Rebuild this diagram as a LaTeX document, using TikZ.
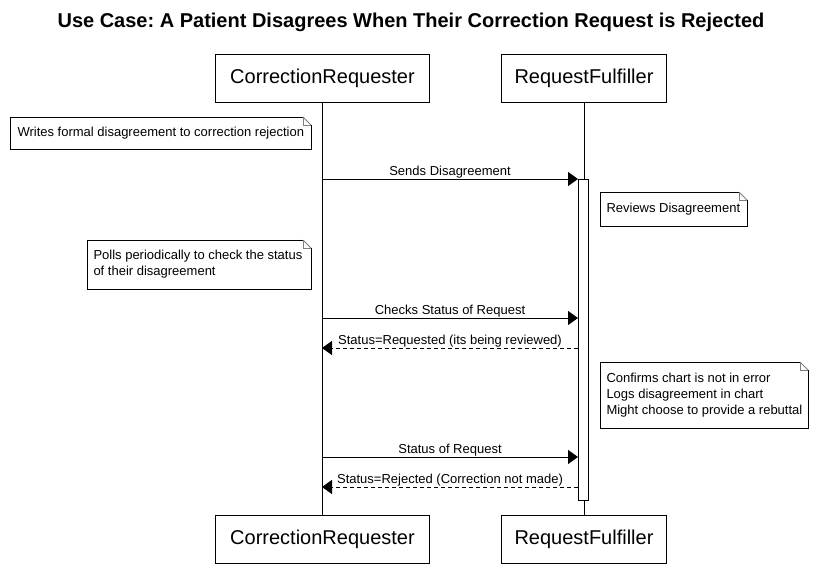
\documentclass[tikz,border=0pt]{standalone}
\usepackage{fontspec}
\setmainfont{Liberation Sans}
\usetikzlibrary{arrows.meta}
\frenchspacing
\newcommand{\foldnote}[1]{%
  \draw ([xshift=-8pt]#1.north east) -- (#1.north west) -- (#1.south west) -- (#1.south east) -- ([yshift=-8pt]#1.north east);
  \draw[gray] ([xshift=-8pt]#1.north east) -- ([yshift=-8pt]#1.north east);
  \draw[gray] ([xshift=-8pt]#1.north east) -- ([xshift=-8pt,yshift=-8pt]#1.north east) -- ([yshift=-8pt]#1.north east);
}
\begin{document}
\begin{tikzpicture}[x=1pt,y=-1pt, line width=1pt,
  actor/.style={draw, fill=white, minimum height=48pt, inner sep=0pt, font=\fontsize{20}{24}\selectfont, anchor=north west},
  notebox/.style={inner sep=0pt, anchor=north west},
  notetext/.style={inner sep=0pt, anchor=west, align=left, font=\fontsize{13}{16}\selectfont},
  msglabel/.style={font=\fontsize{13}{16}\selectfont, above, inner sep=0.5pt},
  msg/.style={-{Triangle[length=10pt,width=14pt]}},
  ret/.style={msg, dash pattern=on 4pt off 3pt},
  actbar/.style={draw, fill=white, minimum width=10pt, inner sep=0pt, anchor=north}]
\useasboundingbox[fill=white] (0,0) rectangle (817,573);

\node[font=\bfseries\fontsize{20}{24}\selectfont] (title) at (411,22) {Use Case: A Patient Disagrees When Their Correction Request is Rejected};

\node[actor, minimum width=214pt] (crTop) at (215,54) {CorrectionRequester};
\node[actor, minimum width=165pt] (rfTop) at (501,54) {RequestFulfiller};
\node[actor, minimum width=214pt] (crBot) at (215,515) {CorrectionRequester};
\node[actor, minimum width=165pt] (rfBot) at (501,515) {RequestFulfiller};

\draw (crTop.south) -- (crBot.north);
\draw (rfTop.south) -- (rfBot.north);

\node[actbar, minimum height=321pt] (act) at (583,179) {};

% notes
\node[notebox, minimum width=300pt, minimum height=31pt] (n1) at (10,117) {};
\foldnote{n1}
\node[notetext] (n1t) at ([xshift=7pt]n1.west) {Writes formal disagreement to correction rejection};
\node[notebox, minimum width=146pt, minimum height=33pt] (n2) at (600,192) {};
\foldnote{n2}
\node[notetext] (n2t) at ([xshift=6pt]n2.west) {Reviews Disagreement};
\node[notebox, minimum width=223pt, minimum height=48pt] (n3) at (87,240) {};
\foldnote{n3}
\node[notetext] (n3t) at ([xshift=6pt]n3.west) {Polls periodically to check the status\\of their disagreement};
\node[notebox, minimum width=207pt, minimum height=65pt] (n4) at (600,362) {};
\foldnote{n4}
\node[notetext] (n4t) at ([xshift=6pt]n4.west) {Confirms chart is not in error\\Logs disagreement in chart\\Might choose to provide a rebuttal};

% message anchor points
\coordinate (c1) at (322,179); \coordinate (f1) at (578,179);
\coordinate (c2) at (322,318); \coordinate (f2) at (578,318);
\coordinate (c3) at (322,348); \coordinate (f3) at (578,348);
\coordinate (c4) at (322,457); \coordinate (f4) at (578,457);
\coordinate (c5) at (322,487); \coordinate (f5) at (578,487);

\draw[msg] (c1) -- (f1) node[midway, msglabel] {Sends Disagreement};
\draw[msg] (c2) -- (f2) node[midway, msglabel] {Checks Status of Request};
\draw[ret] (f3) -- (c3) node[midway, msglabel] {Status=Requested (its being reviewed)};
\draw[msg] (c4) -- (f4) node[midway, msglabel] {Status of Request};
\draw[ret] (f5) -- (c5) node[midway, msglabel] {Status=Rejected (Correction not made)};
\end{tikzpicture}
\end{document}
